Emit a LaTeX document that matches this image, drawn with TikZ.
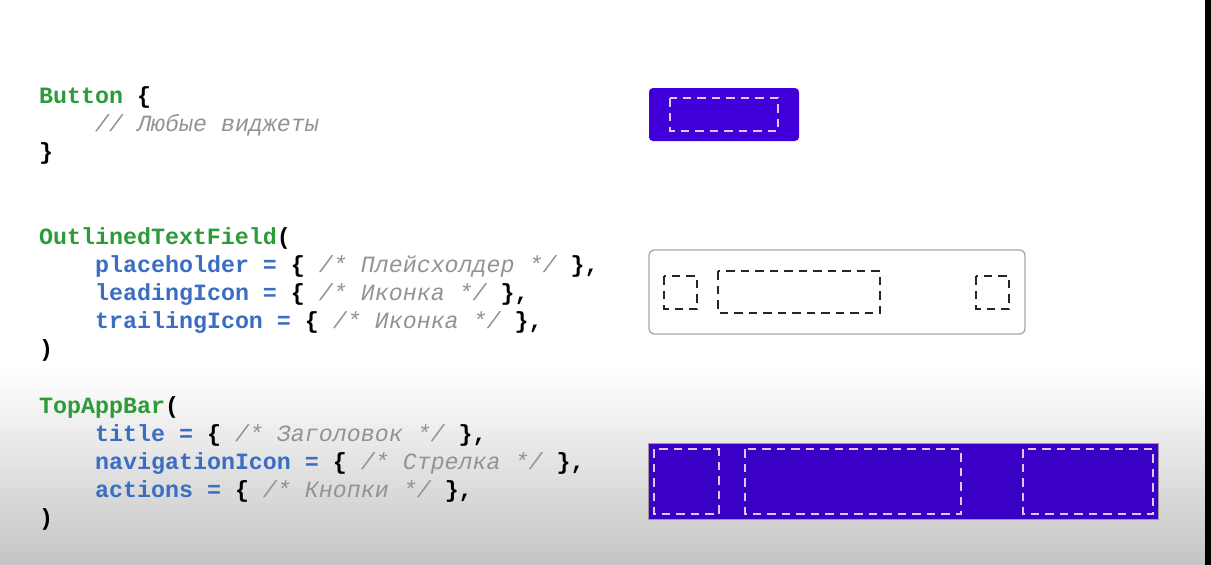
\documentclass[tikz,border=0pt]{standalone}
\usepackage{fontspec}
\setmonofont{Liberation Mono}
\definecolor{kwgreen}{HTML}{2E9B3A}
\definecolor{kwblue}{HTML}{3B6EC2}
\definecolor{cmtgray}{HTML}{939393}
\definecolor{btnfill}{HTML}{4100DA}
\definecolor{barfill}{HTML}{3B00C6}
\definecolor{dashlight}{HTML}{D9CBEF}
\definecolor{fieldborder}{HTML}{A8A8A8}
\newcommand\grn[1]{\textcolor{kwgreen}{#1}}
\newcommand\blu[1]{\textcolor{kwblue}{#1}}
\newcommand\cmt[1]{{\mdseries\itshape\color{cmtgray}#1}}
\tikzset{
  code/.style={anchor=base west, inner sep=0pt, font=\ttfamily\bfseries\fontsize{23.3}{23.3}\selectfont, text=black},
  dashbox/.style={line width=1.9pt, dash pattern=on 8.5pt off 6pt},
}
\begin{document}
\begin{tikzpicture}[x=1pt,y=-1pt]
\useasboundingbox (0,0) rectangle (1211,565);
\fill[white] (0,0) rectangle (1211,370);
\shade[top color=white, bottom color=black!23] (0,369) rectangle (1211,565);
\fill[black] (1205,0) rectangle (1211,565);

% code: Button
\node[code] (b1) at (39,103.5) {\grn{Button} \{};
\node[code] (b2) at (95,131.5) {\cmt{// Любые виджеты}};
\node[code] (b3) at (39,159.5) {\}};

% code: OutlinedTextField
\node[code] (o1) at (39,244) {\grn{OutlinedTextField}(};
\node[code] (o2) at (95,272) {\blu{placeholder =} \{ \cmt{/* Плейсхолдер */} \},};
\node[code] (o3) at (95,300) {\blu{leadingIcon =} \{ \cmt{/* Иконка */} \},};
\node[code] (o4) at (95,328) {\blu{trailingIcon =} \{ \cmt{/* Иконка */} \},};
\node[code] (o5) at (39,356) {)};

% code: TopAppBar
\node[code] (t1) at (39,413) {\grn{TopAppBar}(};
\node[code] (t2) at (95,441) {\blu{title =} \{ \cmt{/* Заголовок */} \},};
\node[code] (t3) at (95,469) {\blu{navigationIcon =} \{ \cmt{/* Стрелка */} \},};
\node[code] (t4) at (95,497) {\blu{actions =} \{ \cmt{/* Кнопки */} \},};
\node[code] (t5) at (39,525) {)};

% Button preview
\fill[btnfill, rounded corners=4pt] (649,88) rectangle (799,141);
\draw[dashbox, dashlight] (670,98) rectangle (778,131);

% OutlinedTextField preview
\draw[fieldborder, line width=1.3pt, rounded corners=5pt] (649,250) rectangle (1025,334);
\draw[dashbox, black!85] (664,276) rectangle (697,309);
\draw[dashbox, black!85] (718,271) rectangle (880,313);
\draw[dashbox, black!85] (976,276) rectangle (1009,309);

% TopAppBar preview
\fill[barfill] (648,443) rectangle (1158,519);
\draw[black!40, line width=0.6pt] (648,443) rectangle (1158,519);
\draw[dashbox, dashlight] (654,449) rectangle (719,514);
\draw[dashbox, dashlight] (745,449) rectangle (961,514);
\draw[dashbox, dashlight] (1023,449) rectangle (1153,514);
\end{tikzpicture}
\end{document}
